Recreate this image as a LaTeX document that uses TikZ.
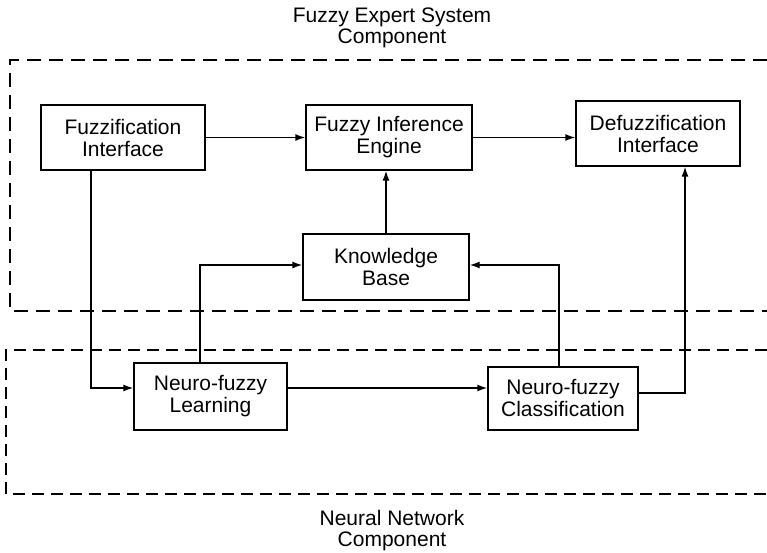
\documentclass[tikz,border=0pt]{standalone}
\usepackage{fontspec}
\setmainfont{Liberation Sans}
\usetikzlibrary{arrows.meta}

\begin{document}
\begin{tikzpicture}[x=1pt,y=-1pt,
  block/.style={draw,line width=1.4pt,align=center,inner sep=0pt,
    font=\fontsize{21}{22}\selectfont},
  caption/.style={align=center,font=\fontsize{21}{21}\selectfont},
  link/.style={line width=1.4pt,-{Latex[length=10pt,width=7pt]}},
  fuzzyzone/.style={line width=2pt,dash pattern=on 14pt off 8pt},
  neuralzone/.style={line width=1.3pt,dash pattern=on 12pt off 7pt}]
  \useasboundingbox (0,0) rectangle (767,553);
  \draw[fuzzyzone] (767,60) -- (10,60) -- (10,311) -- (767,311);
  \draw[neuralzone] (767,350) -- (6,350) -- (6,494) -- (767,494);
  \node[caption] (fuzzylbl) at (392,28) {Fuzzy Expert System\\Component};
  \node[caption] (neurallbl) at (392,531) {Neural Network\\Component};
  \node[block,minimum width=164pt,minimum height=65pt] (fuzzif) at (123,137.5) {Fuzzification\\Interface};
  \node[block,minimum width=166pt,minimum height=65pt] (engine) at (389,137.5) {Fuzzy Inference\\Engine};
  \node[block,minimum width=164pt,minimum height=65pt] (defuzz) at (658,133.5) {Defuzzification\\Interface};
  \node[block,minimum width=166pt,minimum height=66pt] (kbase) at (386,267) {Knowledge\\Base};
  \node[block,minimum width=153pt,minimum height=67pt] (learn) at (210.5,396.5) {Neuro-fuzzy\\Learning};
  \node[block,minimum width=150pt,minimum height=63pt] (classif) at (563,398.5) {Neuro-fuzzy\\Classification};
  \draw[link] (fuzzif) -- (engine);
  \draw[link] (engine.east) -- (engine.east -| defuzz.west);
  \draw[link] (kbase.north) -- (kbase.north |- engine.south);
  \draw[link] ([xshift=-32pt]fuzzif.south) |- ([yshift=8.5pt]learn.west);
  \draw[link] ([yshift=8.5pt]learn.east) -- ([yshift=8.5pt]learn.east -| classif.west);
  \draw[link] ([xshift=-10.5pt]learn.north) |- ([yshift=2pt]kbase.west);
  \draw[link] ([xshift=-4pt]classif.north) |- ([yshift=2pt]kbase.east);
  \draw[link] ([yshift=5.5pt]classif.east) -| ([xshift=27pt]defuzz.south);
\end{tikzpicture}
\end{document}
